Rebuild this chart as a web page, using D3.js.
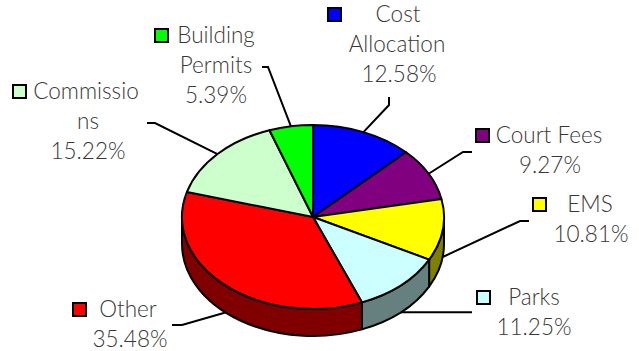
<!DOCTYPE html>
<html>
<head>
<meta charset="utf-8">
<script src="https://cdn.jsdelivr.net/npm/d3@7"></script>
<style>
  html, body { margin: 0; padding: 0; background: #fff; }
  svg { display: block; }
  .lbl { font-family: "Lato", "Open Sans", "DejaVu Sans", sans-serif; font-weight: 300; font-size: 22.5px; fill: #383838; }
</style>
</head>
<body>
<svg id="chart" width="639" height="351"></svg>
<script>
// Revenue share by category, clockwise from 12 o'clock
const categories = ["Cost Allocation", "Court Fees", "EMS", "Parks", "Other", "Commissions", "Building Permits"];
const shares = [12.58, 9.27, 10.81, 11.25, 35.48, 15.22, 5.39];
const colors = ["#0000ff", "#800080", "#ffff00", "#ccffff", "#ff0000", "#ccffcc", "#00ff00"];

// Label text lines (first line carries the colour key)
const labelLines = [
  ["Cost", "Allocation"],
  ["Court Fees"],
  ["EMS"],
  ["Parks"],
  ["Other"],
  ["Commissio", "ns"],
  ["Building", "Permits"]
];

// Label placement: key box x, text centre x, first baseline, leader elbow and end
const labelLayout = {
  "Cost Allocation":  { keyX: 328, tx: [398, 397, 399], y: 22,  elbow: [389, 105], end: [389, 97] },
  "Court Fees":       { keyX: 476, tx: [549, 550],      y: 143, elbow: [463, 152], end: [472, 152] },
  "EMS":              { keyX: 533, tx: [590, 591],      y: 212, elbow: [520, 221], end: [529, 221] },
  "Parks":            { keyX: 477, tx: [534, 534],      y: 305, elbow: null,       end: [472, 312] },
  "Other":            { keyX: 73,  tx: [128, 130],      y: 317, elbow: [182, 325], end: [172, 325] },
  "Commissions":      { keyX: 13,  tx: [86, 88, 88],    y: 99,  elbow: [155, 123], end: [147, 123] },
  "Building Permits": { keyX: 155, tx: [216, 216, 216], y: 43,  elbow: [268, 67],  end: [262, 67] }
};

const svg = d3.select("#chart");
const cx = 313, cy = 217, rx = 131, ry = 92, depth = 27;

const color = d3.scaleOrdinal().domain(categories).range(colors);
const sideColor = d3.scaleOrdinal().domain(categories)
  .range(colors.map(c => { const k = d3.rgb(c); return d3.rgb(k.r / 2, k.g / 2, k.b / 2).formatHex(); }));

const data = categories.map((c, i) => ({ name: c, value: shares[i], lines: labelLines[i] }));
const arcs = d3.pie().sort(null).value(d => d.value)(data);

// point on the projected ellipse; angle clockwise from top
const pt = (a, dy = 0) => [cx + rx * Math.sin(a), cy - ry * Math.cos(a) + dy];

// side walls (only the front half, angles between PI/2 and 3PI/2)
const sideG = svg.append("g");
arcs.forEach(d => {
  const a0 = Math.max(d.startAngle, Math.PI / 2);
  const a1 = Math.min(d.endAngle, 3 * Math.PI / 2);
  if (a1 <= a0) return;
  const p0 = pt(a0), p1 = pt(a1), q1 = pt(a1, depth), q0 = pt(a0, depth);
  const large = (a1 - a0) > Math.PI ? 1 : 0;
  const path = `M${p0}A${rx},${ry} 0 ${large} 1 ${p1}L${q1}A${rx},${ry} 0 ${large} 0 ${q0}Z`;
  sideG.append("path").attr("d", path)
    .attr("fill", sideColor(d.data.name))
    .attr("stroke", "#000").attr("stroke-width", 2).attr("stroke-linejoin", "round");
});

// top face
const topG = svg.append("g");
arcs.forEach(d => {
  const p0 = pt(d.startAngle), p1 = pt(d.endAngle);
  const large = (d.endAngle - d.startAngle) > Math.PI ? 1 : 0;
  topG.append("path")
    .attr("d", `M${cx},${cy}L${p0}A${rx},${ry} 0 ${large} 1 ${p1}Z`)
    .attr("fill", color(d.data.name))
    .attr("stroke", "#000").attr("stroke-width", 2).attr("stroke-linejoin", "round");
});

// leader lines and labels
const lblG = svg.append("g");
arcs.forEach(d => {
  const L = labelLayout[d.data.name];
  const mid = (d.startAngle + d.endAngle) / 2;
  const front = Math.cos(mid) < 0;
  const start = pt(mid, front ? depth : 0);
  const pts = [start];
  if (L.elbow) pts.push(L.elbow);
  else pts.push([L.end[0], start[1]]);
  if (L.elbow) pts.push(L.end);
  lblG.append("path").attr("d", d3.line()(pts))
    .attr("fill", "none").attr("stroke", "#000").attr("stroke-width", 2);

  lblG.append("rect")
    .attr("x", L.keyX).attr("y", L.y - 14).attr("width", 13).attr("height", 13)
    .attr("fill", color(d.data.name)).attr("stroke", "#000").attr("stroke-width", 2);

  const lines = d.data.lines.concat([d3.format(".2f")(d.data.value) + "%"]);
  lines.forEach((t, i) => {
    lblG.append("text").attr("class", "lbl")
      .attr("x", L.tx[i]).attr("y", L.y + i * 30)
      .attr("text-anchor", "middle").text(t);
  });
});
</script>
</body>
</html>
